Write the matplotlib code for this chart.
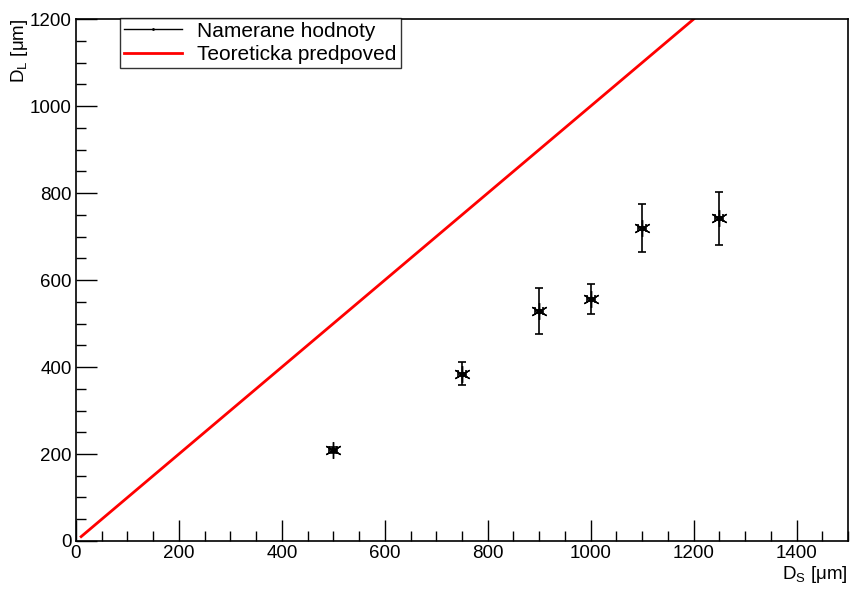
import matplotlib
matplotlib.use("Agg")
import matplotlib.pyplot as plt
from matplotlib.ticker import MultipleLocator

plt.rcParams['font.family'] = ['Liberation Sans', 'DejaVu Sans']

# measured values
ds = [500, 750, 900, 1000, 1100, 1250]
dl = [210, 385, 529, 557, 720, 742]
dl_err = [7, 27, 52, 34, 56, 61]
ds_err = [8, 8, 8, 8, 8, 8]

# theoretical prediction D_L = D_S
theory_x = [10, 1200]
theory_y = [10, 1200]

fig = plt.figure(figsize=(8.51, 5.95), dpi=100)
ax = fig.add_axes([0.0893, 0.0908, 0.9072, 0.877])

ax.plot(theory_x, theory_y, color='red', lw=2, label='Teoreticka predpoved', zorder=2)
ax.errorbar(ds, dl, yerr=dl_err, xerr=ds_err, fmt='none', ecolor='black',
            elinewidth=1.2, capsize=3, capthick=1.2, zorder=3)
ax.plot(ds, dl, linestyle='none', marker=(6, 2, 0), markersize=12, color='black',
        markeredgewidth=1.0, zorder=4)
ax.plot(ds, dl, linestyle='none', marker='o', markersize=3, color='black', zorder=5)
ax.plot([], [], color='black', lw=1, marker='.', markersize=2, label='Namerane hodnoty')

ax.set_xlim(0, 1500)
ax.set_ylim(0, 1200)
ax.xaxis.set_major_locator(MultipleLocator(200))
ax.xaxis.set_minor_locator(MultipleLocator(50))
ax.yaxis.set_major_locator(MultipleLocator(200))
ax.yaxis.set_minor_locator(MultipleLocator(50))
ax.tick_params(which='both', direction='in', top=False, right=False, labelsize=13.5, width=1)
ax.tick_params(which='major', length=15, pad=3)
ax.tick_params(which='minor', length=7)
for s in ax.spines.values():
    s.set_linewidth(1.2)

ax.set_xlabel(r'D$_\mathregular{S}$ [$\mathregular{\mu}$m]', fontsize=13.5, loc='right', labelpad=1)
ax.set_ylabel(r'D$_\mathregular{L}$ [$\mathregular{\mu}$m]', fontsize=13.5, loc='top', labelpad=0)

handles, labels = ax.get_legend_handles_labels()
leg = ax.legend(handles[::-1], labels[::-1], loc='upper left', bbox_to_anchor=(0.057, 1.003),
                fontsize=15, frameon=True, fancybox=False, edgecolor='black',
                borderpad=0.2, labelspacing=0.2, handlelength=2.8, handletextpad=0.7,
                borderaxespad=0)
leg.get_frame().set_linewidth(1.0)

fig.savefig('out.png', dpi=100)
